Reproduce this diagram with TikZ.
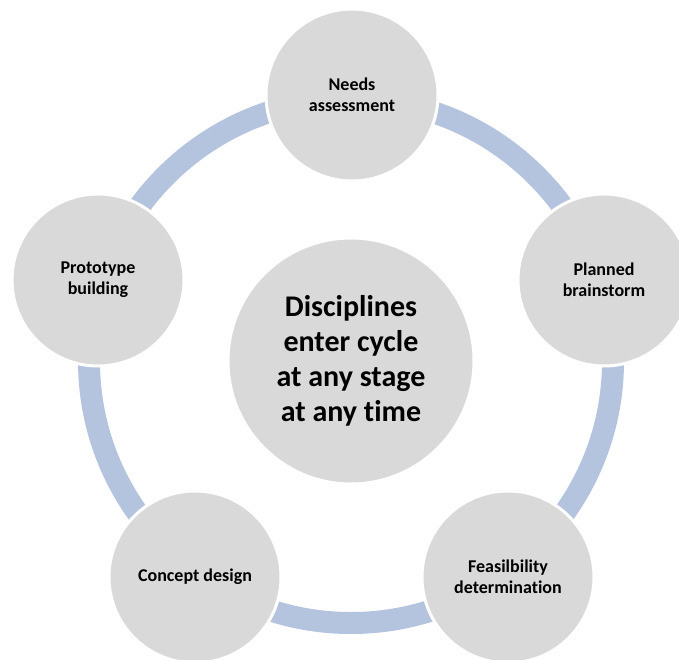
\documentclass[tikz,border=0pt]{standalone}
\usepackage{fontspec}
\setmainfont[Ligatures=NoCommon]{Carlito}
\definecolor{ringblue}{HTML}{B4C3DE}
\definecolor{discgray}{HTML}{D9D9D9}
\begin{document}
\begin{tikzpicture}[x=1pt,y=-1pt,
  stage/.style={circle,fill=discgray,draw=white,line width=3pt,inner sep=0pt,
    minimum size=172pt,align=center,font=\fontsize{18}{21}\selectfont\bfseries},
  hub/.style={circle,fill=discgray,draw=white,line width=3pt,inner sep=0pt,
    minimum size=246pt,align=center,font=\fontsize{30}{35}\selectfont\bfseries},
  ring/.style={draw=ringblue,line width=22pt}]
\useasboundingbox (0,0) rectangle (679,660);
\coordinate (c) at (351,361);
\draw[ring] (c) circle[radius=262pt];
\node[hub] (center) at (c) {Disciplines\\enter cycle\\at any stage\\at any time};
\node[stage] (needs) at (352,95) {Needs\\assessment};
\node[stage] (plan) at (604,280) {Planned\\brainstorm};
\node[stage] (feas) at (508,577) {Feasilbility\\determination};
\node[stage] (concept) at (195,577) {Concept design};
\node[stage] (proto) at (98,280) {Prototype\\building};
\end{tikzpicture}
\end{document}
